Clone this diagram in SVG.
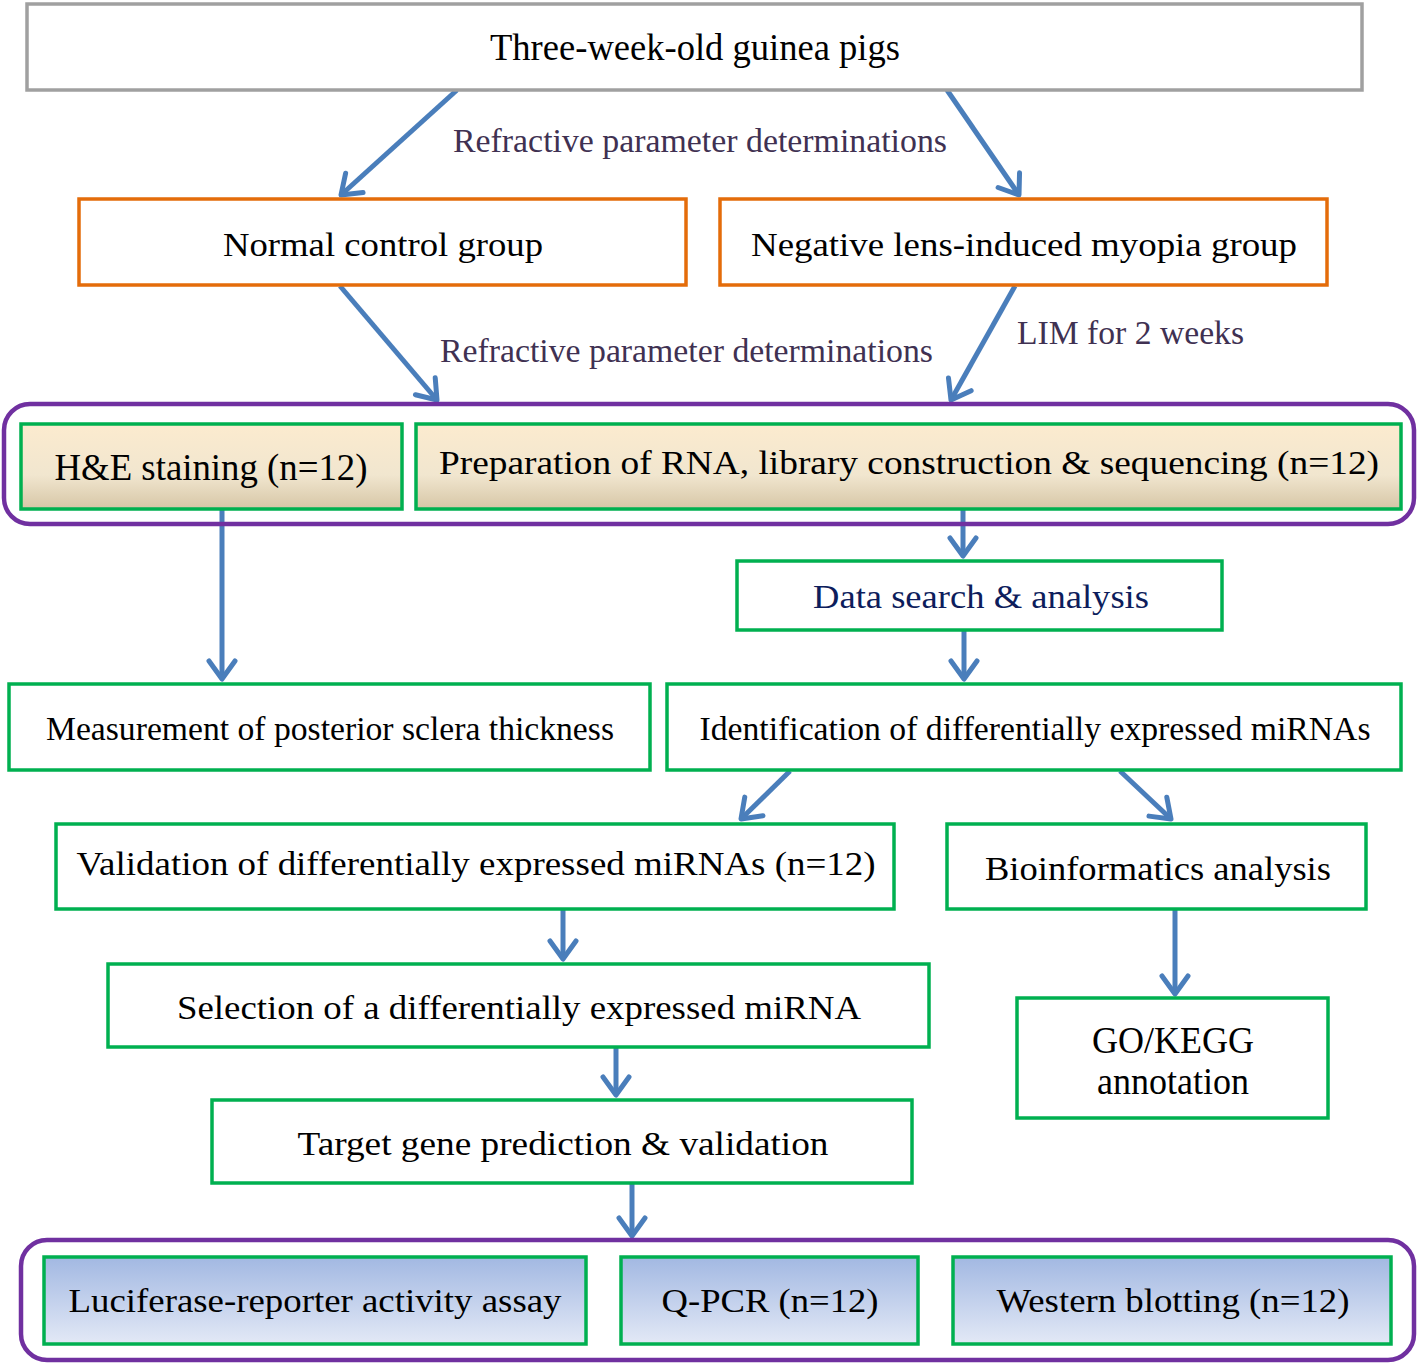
<svg xmlns="http://www.w3.org/2000/svg" width="1418" height="1364" viewBox="0 0 1418 1364">
<style>
text{font-family:"Liberation Serif","Times New Roman",serif;font-size:34px;fill:#000;text-anchor:middle}
.lbl{fill:#403152;font-size:33px;text-anchor:start}
.big{font-size:37px}
.g{fill:#fff;stroke:#00b050;stroke-width:3.5}
.g.tan{fill:url(#tan)}
.g.blue{fill:url(#blue)}
.o{fill:#fff;stroke:#e46c0a;stroke-width:3.5}
.p{fill:none;stroke:#7030a0;stroke-width:4.5}
.c{fill:none;stroke:#4a7ebb;stroke-width:5}
</style>
<defs>
<linearGradient id="tan" x1="0" y1="0" x2="0" y2="1">
<stop offset="0" stop-color="#fcebcf"/><stop offset="0.6" stop-color="#f1e6cf"/><stop offset="1" stop-color="#d6c6a6"/>
</linearGradient>
<linearGradient id="blue" x1="0" y1="0" x2="0" y2="1">
<stop offset="0" stop-color="#a2b8e2"/><stop offset="1" stop-color="#e3e9f6"/>
</linearGradient>
<marker id="ah" markerUnits="userSpaceOnUse" markerWidth="40" markerHeight="40" refX="24" refY="16" orient="auto" overflow="visible">
<path d="M6,3 L24,16 L6,29" fill="none" stroke="#4a7ebb" stroke-width="5" stroke-linecap="round" stroke-linejoin="round"/>
</marker>
</defs>

<g id="connectors">
<line class="c" x1="457" y1="90" x2="341" y2="195" marker-end="url(#ah)"/>
<line class="c" x1="947" y1="90" x2="1019" y2="195" marker-end="url(#ah)"/>
<line class="c" x1="340" y1="286" x2="437" y2="400" marker-end="url(#ah)"/>
<line class="c" x1="1015" y1="286" x2="951" y2="400" marker-end="url(#ah)"/>
<line class="c" x1="963" y1="510" x2="963" y2="556" marker-end="url(#ah)"/>
<line class="c" x1="964" y1="631" x2="964" y2="679" marker-end="url(#ah)"/>
<line class="c" x1="222" y1="510" x2="222" y2="679" marker-end="url(#ah)"/>
<line class="c" x1="790" y1="771" x2="741" y2="819" marker-end="url(#ah)"/>
<line class="c" x1="1120" y1="771" x2="1171" y2="819" marker-end="url(#ah)"/>
<line class="c" x1="563" y1="910" x2="563" y2="959" marker-end="url(#ah)"/>
<line class="c" x1="1175" y1="910" x2="1175" y2="994" marker-end="url(#ah)"/>
<line class="c" x1="616" y1="1047" x2="616" y2="1095" marker-end="url(#ah)"/>
<line class="c" x1="632" y1="1184" x2="632" y2="1236" marker-end="url(#ah)"/>
<text class="lbl" x="453" y="152" textLength="494" lengthAdjust="spacingAndGlyphs">Refractive parameter determinations</text>
<text class="lbl" x="440" y="362" textLength="493" lengthAdjust="spacingAndGlyphs">Refractive parameter determinations</text>
<text class="lbl" x="1017" y="344" textLength="227" lengthAdjust="spacingAndGlyphs">LIM for 2 weeks</text>
</g>

<g id="n-top">
<rect x="27" y="4" width="1335" height="86" fill="#fff" stroke="#a0a0a0" stroke-width="3.5"/>
<text class="big" x="695" y="60" textLength="410" lengthAdjust="spacingAndGlyphs">Three-week-old guinea pigs</text>
</g>
<g id="n-normal">
<rect class="o" x="79" y="199" width="607" height="86"/>
<text x="383" y="256" textLength="320" lengthAdjust="spacingAndGlyphs">Normal control group</text>
</g>
<g id="n-lim">
<rect class="o" x="720" y="199" width="607" height="86"/>
<text x="1024" y="256" textLength="546" lengthAdjust="spacingAndGlyphs">Negative lens-induced myopia group</text>
</g>

<g id="group1">
<rect class="p" x="4" y="404" width="1410" height="120" rx="26"/>
</g>
<g id="n-he">
<rect class="g tan" x="21" y="424" width="381" height="85"/>
<text class="big" x="211" y="480" textLength="313" lengthAdjust="spacingAndGlyphs">H&amp;E staining (n=12)</text>
</g>
<g id="n-rna">
<rect class="g tan" x="416" y="424" width="985" height="85"/>
<text x="909" y="474" textLength="940" lengthAdjust="spacingAndGlyphs">Preparation of RNA, library construction &amp;  sequencing (n=12)</text>
</g>
<g id="n-data">
<rect class="g" x="737" y="561" width="485" height="69"/>
<text x="981" y="608" style="fill:#0d1d5c" textLength="336" lengthAdjust="spacingAndGlyphs">Data search &amp; analysis</text>
</g>
<g id="n-measure">
<rect class="g" x="9" y="684" width="641" height="86"/>
<text x="330" y="740" textLength="568" lengthAdjust="spacingAndGlyphs">Measurement of posterior sclera thickness</text>
</g>
<g id="n-ident">
<rect class="g" x="667" y="684" width="734" height="86"/>
<text x="1035" y="740" textLength="671" lengthAdjust="spacingAndGlyphs">Identification of differentially expressed miRNAs</text>
</g>
<g id="n-valid">
<rect class="g" x="56" y="824" width="838" height="85"/>
<text x="476" y="875" textLength="799" lengthAdjust="spacingAndGlyphs">Validation of differentially expressed miRNAs (n=12)</text>
</g>
<g id="n-bio">
<rect class="g" x="947" y="824" width="419" height="85"/>
<text x="1158" y="880" textLength="346" lengthAdjust="spacingAndGlyphs">Bioinformatics analysis</text>
</g>
<g id="n-select">
<rect class="g" x="108" y="964" width="821" height="83"/>
<text x="519" y="1019" textLength="684" lengthAdjust="spacingAndGlyphs">Selection of a differentially expressed miRNA</text>
</g>
<g id="n-go">
<rect class="g" x="1017" y="998" width="311" height="120"/>
<text class="big" x="1173" y="1053" textLength="162" lengthAdjust="spacingAndGlyphs">GO/KEGG</text>
<text class="big" x="1173" y="1094" textLength="152" lengthAdjust="spacingAndGlyphs">annotation</text>
</g>
<g id="n-target">
<rect class="g" x="212" y="1100" width="700" height="83"/>
<text x="563" y="1155" textLength="531" lengthAdjust="spacingAndGlyphs">Target gene prediction &amp; validation</text>
</g>

<g id="group2">
<rect class="p" x="21" y="1240" width="1393" height="120" rx="26"/>
</g>
<g id="n-luc">
<rect class="g blue" x="44" y="1257" width="542" height="87"/>
<text x="315" y="1312" textLength="493" lengthAdjust="spacingAndGlyphs">Luciferase-reporter activity assay</text>
</g>
<g id="n-qpcr">
<rect class="g blue" x="621" y="1257" width="297" height="87"/>
<text x="770" y="1312" textLength="217" lengthAdjust="spacingAndGlyphs">Q-PCR (n=12)</text>
</g>
<g id="n-wb">
<rect class="g blue" x="953" y="1257" width="438" height="87"/>
<text x="1173" y="1312" textLength="353" lengthAdjust="spacingAndGlyphs">Western blotting (n=12)</text>
</g>
</svg>
